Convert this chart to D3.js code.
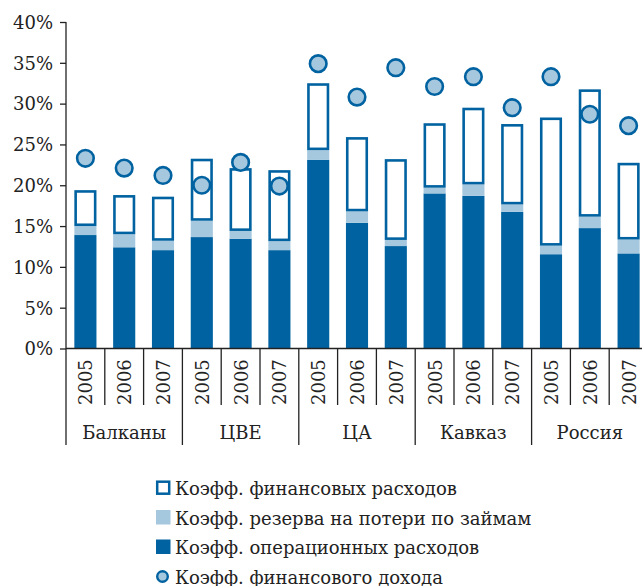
<!DOCTYPE html>
<html>
<head>
<meta charset="utf-8">
<script src="https://cdn.jsdelivr.net/npm/d3@7"></script>
<style>
    body { margin: 0; background: #fff; }
</style>
</head>
<body>
<svg id="chart" width="642" height="586"></svg>
<script>
// regions and years
var regions = ["Балканы", "ЦВЕ", "ЦА", "Кавказ", "Россия"];
var years = ["2005", "2006", "2007"];
// values in %, one per region/year, in order
var opex = [13.9, 12.4, 12.05, 13.65, 13.45, 12.05, 23.1, 15.4, 12.55, 19.0, 18.7, 16.75, 11.55, 14.75, 11.65];
var loanLoss = [1.1, 1.6, 1.15, 2.0, 0.95, 1.1, 1.2, 1.4, 0.75, 0.7, 1.4, 0.9, 1.05, 1.4, 1.7];
var finExp = [4.4, 4.8, 5.4, 7.6, 7.7, 8.7, 8.2, 9.1, 9.9, 7.9, 9.4, 9.85, 15.7, 15.6, 9.4];
var finIncome = [23.3, 22.1, 21.2, 20.0, 22.8, 19.9, 34.9, 30.8, 34.4, 32.1, 33.3, 29.5, 33.3, 28.7, 27.3];
var yTicks = [0, 5, 10, 15, 20, 25, 30, 35, 40];
var legendLabels = ["Коэфф. финансовых расходов", "Коэфф. резерва на потери по займам",
    "Коэфф. операционных расходов", "Коэфф. финансового дохода"];

var dark = "#0062a0";
var light = "#a6c8df";
var serif = "'DejaVu Serif', serif";

var svg = d3.select("#chart");
var x0 = 66, x1 = 648, yBot = 348.5, yTop = 22;

var rows = [];
for (var i = 0; i < regions.length * years.length; i++) {
    rows.push({
        key: i,
        region: regions[Math.floor(i / years.length)],
        year: years[i % years.length],
        opex: opex[i], loss: loanLoss[i], fin: finExp[i], inc: finIncome[i]
    });
}

var x = d3.scaleBand().domain(rows.map(function (d) { return d.key; }))
        .range([x0, x1]).paddingInner(0.43).paddingOuter(0.215);
var y = d3.scaleLinear().domain([0, 40]).range([yBot, yTop]);

var stacked = d3.stack().keys(["opex", "loss", "fin"])(rows);

// y axis
var yAxis = d3.axisLeft(y).tickValues(yTicks).tickSize(6).tickPadding(7)
        .tickFormat(function (d) { return d + "%"; });
var gy = svg.append("g").attr("transform", "translate(" + x0 + ",0)").call(yAxis);
gy.attr("font-family", null).attr("font-size", null);
gy.select(".domain").remove();
gy.selectAll("line").attr("stroke", "#222").attr("stroke-width", 1.3);
gy.selectAll("text").style("font-family", serif).style("font-size", "18px")
        .attr("fill", "#222").attr("dy", "0.35em");
svg.append("line").attr("x1", x0).attr("x2", x0).attr("y1", yTop).attr("y2", 445)
        .attr("stroke", "#222").attr("stroke-width", 1.3);

// bars
var step = x.step();
var bw = x.bandwidth();
svg.append("g").selectAll("rect").data(stacked[0]).join("rect")
        .attr("x", function (d, i) { return x(i); })
        .attr("width", bw)
        .attr("y", function (d) { return y(d[1]); })
        .attr("height", function (d) { return y(d[0]) - y(d[1]); })
        .attr("fill", dark);
svg.append("g").selectAll("rect").data(stacked[1]).join("rect")
        .attr("x", function (d, i) { return x(i); })
        .attr("width", bw)
        .attr("y", function (d) { return y(d[1]); })
        .attr("height", function (d) { return y(d[0]) - y(d[1]); })
        .attr("fill", light);
var sw = 2.6;
svg.append("g").selectAll("rect").data(stacked[2]).join("rect")
        .attr("x", function (d, i) { return x(i) + sw / 2; })
        .attr("width", bw - sw)
        .attr("y", function (d) { return y(d[1]) + sw / 2; })
        .attr("height", function (d) { return y(d[0]) - y(d[1]) - sw; })
        .attr("fill", "#fff").attr("stroke", dark).attr("stroke-width", sw);

// income circles
svg.append("g").selectAll("circle").data(rows).join("circle")
        .attr("cx", function (d) { return x(d.key) + bw / 2; })
        .attr("cy", function (d) { return y(d.inc); })
        .attr("r", 8.3)
        .attr("fill", light).attr("stroke", dark).attr("stroke-width", 2.6);

// x axis line and separators
svg.append("line").attr("x1", x0).attr("x2", 642).attr("y1", yBot).attr("y2", yBot)
        .attr("stroke", "#222").attr("stroke-width", 1.3);
var sep = svg.append("g");
rows.forEach(function (d, i) {
    if (i === 0) return;
    var xx = x(d.key) - step * x.paddingInner() / 2;
    var isGroup = i % years.length === 0;
    sep.append("line").attr("x1", xx).attr("x2", xx)
            .attr("y1", yBot).attr("y2", isGroup ? 445 : 405)
            .attr("stroke", "#222").attr("stroke-width", 1.3);
});

// year labels
svg.append("g").selectAll("text").data(rows).join("text")
        .attr("transform", function (d) {
            return "translate(" + (x(d.key) + bw / 2 + 7) + ",405) rotate(-90)";
        })
        .style("font-family", serif).style("font-size", "18px").attr("fill", "#222")
        .text(function (d) { return d.year; });

// region labels
svg.append("g").selectAll("text").data(regions).join("text")
        .attr("x", function (d, i) {
            var a = x(i * 3) - step * x.paddingInner() / 2;
            return a + step * 1.5;
        })
        .attr("y", 439)
        .attr("text-anchor", "middle")
        .style("font-family", serif).style("font-size", "18px").attr("fill", "#222")
        .text(function (d) { return d; });

// legend
var lg = svg.append("g").attr("transform", "translate(156,0)");
legendLabels.forEach(function (t, i) {
    var cy = 488 + i * 29.5;
    if (i === 0) {
        lg.append("rect").attr("x", 1.2).attr("y", cy - 6.3).attr("width", 12).attr("height", 12)
                .attr("fill", "#fff").attr("stroke", dark).attr("stroke-width", 2.5);
    } else if (i === 1 || i === 2) {
        lg.append("rect").attr("x", 0).attr("y", cy - 7.5).attr("width", 14.5).attr("height", 14.5)
                .attr("fill", i === 1 ? light : dark);
    } else {
        lg.append("circle").attr("cx", 6.5).attr("cy", cy).attr("r", 5.3)
                .attr("fill", light).attr("stroke", dark).attr("stroke-width", 2.4);
    }
    lg.append("text").attr("x", 19).attr("y", cy + 7)
            .style("font-family", serif).style("font-size", "18px").attr("fill", "#222").text(t);
});
</script>
</body>
</html>
